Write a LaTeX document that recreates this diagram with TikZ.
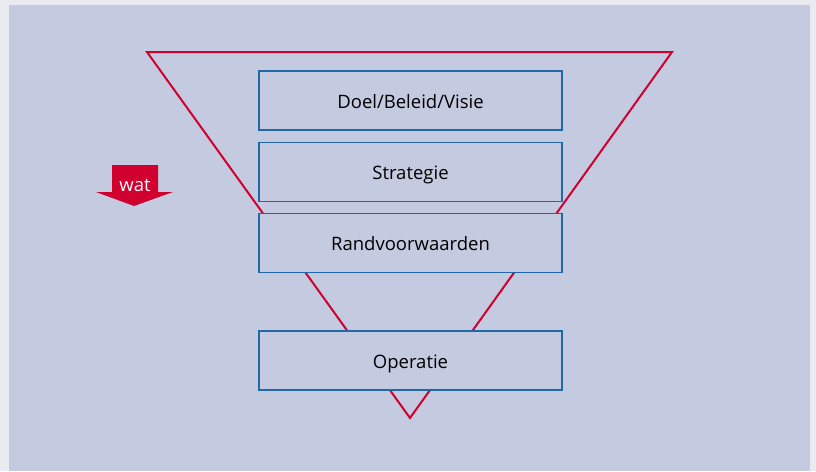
\documentclass[tikz,border=0pt]{standalone}
\usepackage{fontspec}
\setmainfont{Open Sans}
\usepackage{tikz}
\usetikzlibrary{positioning}
\definecolor{panelgrey}{RGB}{196,202,223}
\definecolor{outergrey}{RGB}{234,235,240}
\definecolor{funnelred}{RGB}{208,0,47}
\definecolor{boxblue}{RGB}{32,104,168}

\begin{document}
\begin{tikzpicture}[x=1pt,y=-1pt]
  \tikzset{LevelStyle/.style = {
    shape         = rectangle,
    draw          = boxblue,
    fill          = panelgrey,
    line width    = 1.6pt,
    text          = black,
    font          = \fontsize{18.5}{22}\selectfont,
    text height   = 15.5pt,
    text depth    = 0pt,
    minimum width = 303pt,
    minimum height= 59pt,
    inner sep     = 0pt,
    outer sep     = 0pt
    }
  }
  \tikzset{FunnelStyle/.style = {
    draw          = funnelred,
    line width    = 2pt,
    line join     = miter
    }
  }

	% background
	\fill[outergrey] (0,0) rectangle (816,471);
	\fill[panelgrey] (9,5) rectangle (810,471);
	\useasboundingbox (0,0) rectangle (816,471);

	% funnel behind the boxes
	\coordinate (TL) at (147,52);
	\coordinate (TR) at (672,52);
	\coordinate (AP) at (410,418);
	\draw[FunnelStyle] (TL) -- (TR) -- (AP) -- cycle;

	\node[LevelStyle](L1) at (410.5,100.5) {Doel/Beleid/Visie};
	\node[LevelStyle](L2) at (410.5,172) {Strategie};
	\node[LevelStyle](L3) at (410.5,243) {Randvoorwaarden};
	\node[LevelStyle](L4) at (410.5,360.5) {Operatie};

	% arrow wat
	\fill[funnelred] (112,165) -- (158,165) -- (158,192) -- (173,192)
	  -- (134,206) -- (96,192) -- (112,192) -- cycle;
	\node[text=white, font=\fontsize{18.5}{22}\selectfont](wat) at (135,185) {wat};
\end{tikzpicture}
\end{document}
